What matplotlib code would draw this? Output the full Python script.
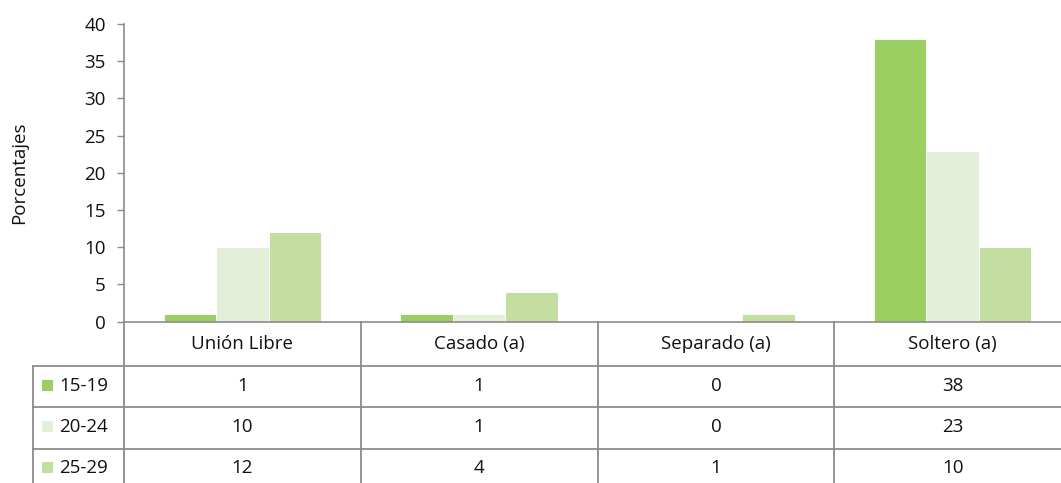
import matplotlib.pyplot as plt
import matplotlib.transforms as mtransforms
from matplotlib.patches import Rectangle
import numpy as np

plt.rcParams['font.family'] = ['Open Sans', 'DejaVu Sans']

# data
categories = ['Unión Libre', 'Casado (a)', 'Separado (a)', 'Soltero (a)']
age_groups = ['15-19', '20-24', '25-29']
v_15_19 = [1, 1, 0, 38]
v_20_24 = [10, 1, 0, 23]
v_25_29 = [12, 4, 1, 10]
series = [v_15_19, v_20_24, v_25_29]
colors = ['#9ccf62', '#e4efd9', '#c4dea1']

FS = 13.5
W, H = 1061, 483
fig = plt.figure(figsize=(W / 100, H / 100), dpi=100)
# plot area runs past the right edge, as in the cropped original
ax = fig.add_axes([124 / W, 1 - 321.7 / H, (1071 - 124) / W, (321.7 - 24) / H])

x = np.arange(len(categories))
bw = 0.2215
for i, (vals, c) in enumerate(zip(series, colors)):
    ax.bar(x + (i - 1) * bw, vals, width=bw, color=c, edgecolor='white',
           linewidth=0.6, zorder=2)

grey = '#8c8c8c'
ax.set_xlim(-0.5, 3.5)
ax.set_ylim(0, 40)
ax.set_yticks(range(0, 41, 5))
ax.set_xticks([])
for s in ['top', 'right']:
    ax.spines[s].set_visible(False)
for s in ['left', 'bottom']:
    ax.spines[s].set_color(grey)
    ax.spines[s].set_linewidth(1.2)
ax.tick_params(axis='y', length=5, width=1, color=grey, labelsize=FS,
               pad=8, labelcolor='#111111')
ax.set_ylabel('Porcentajes', fontsize=FS, color='#111111')
ax.yaxis.set_label_coords(-96 / (1071 - 124), 0.5)

# data table underneath (x in data units, y in figure pixels)
def fy(py):
    return 1 - py / H

tr = mtransforms.blended_transform_factory(ax.transData, fig.transFigure)
trf = fig.transFigure

row_edges = [321.7, 366, 407, 449]
bounds = np.arange(len(categories) + 1) - 0.5
for b in bounds:
    fig.add_artist(plt.Line2D([b, b], [fy(321.7), fy(490)], transform=tr,
                              color=grey, lw=1.3, clip_on=False))
for y in row_edges[1:]:
    fig.add_artist(plt.Line2D([33 / W, 1.0], [fy(y), fy(y)], transform=trf,
                              color=grey, lw=1.3))
fig.add_artist(plt.Line2D([33 / W, 33 / W], [fy(366), fy(490)], transform=trf,
                          color=grey, lw=1.3))

for j, cat in enumerate(categories):
    fig.text(x[j], fy(344), cat, transform=tr, ha='center', va='center',
             fontsize=FS, color='#111111')

row_centers = [386, 427, 468]
for i, (name, vals, c) in enumerate(zip(age_groups, series, colors)):
    yc = row_centers[i]
    fig.add_artist(Rectangle((42 / W, fy(yc + 5)), 11 / W, 11 / H,
                             transform=trf, facecolor=c, edgecolor='none'))
    fig.text(59 / W, fy(yc), name, transform=trf, ha='left', va='center',
             fontsize=FS, color='#111111')
    for j, v in enumerate(vals):
        fig.text(x[j], fy(yc), str(v), transform=tr, ha='center',
                 va='center', fontsize=FS, color='#111111')

fig.savefig('out.png', dpi=100)
